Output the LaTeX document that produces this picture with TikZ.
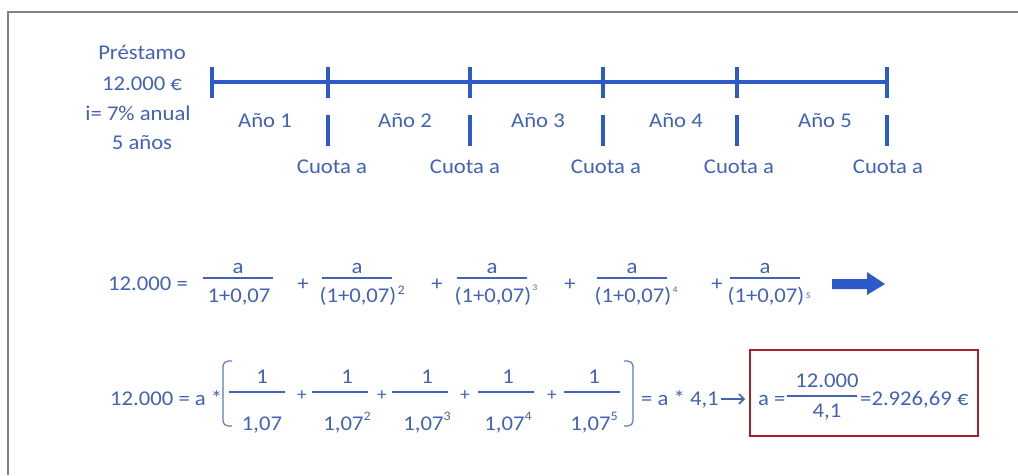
\documentclass[tikz,border=0pt]{standalone}
\usepackage{fontspec}
\usetikzlibrary{arrows.meta}
\setmainfont{Carlito}[FakeStretch=1.08]
\definecolor{txtblue}{RGB}{66,98,182}
\definecolor{lineblue}{RGB}{45,90,200}
\definecolor{boxred}{RGB}{165,35,40}
\definecolor{framegray}{RGB}{130,130,130}
\begin{document}
\begin{tikzpicture}[x=1pt,y=-1pt,
  every node/.style={text=txtblue,inner sep=0pt,font=\fontsize{21}{25}\selectfont},
  supsmall/.style={anchor=west,font=\fontsize{8.5}{8.5}\selectfont},
  bar/.style={draw=txtblue,line width=1.3pt},
  tline/.style={draw=lineblue,line width=3.6pt},
  brack/.style={draw=txtblue!85,line width=1.2pt,rounded corners=5pt}]
\useasboundingbox (0,0) rectangle (1018,475);
\draw[framegray,line width=2pt] (8,475) -- (8,12) -- (1018,12);
\draw[tline] (212,82) -- (887,82);
\draw[tline] (212,67) -- (212,98);
\foreach \x in {328,470,603,737,887} {
  \draw[tline] (\x,67) -- (\x,98);
  \draw[tline] (\x,115) -- (\x,146);
}
\node[anchor=base] (prestamo) at (142,59) {Préstamo};
\node[anchor=base] (importe) at (142,90) {12.000 €};
\node[anchor=base] (interes) at (138,120) {i= 7\% anual};
\node[anchor=base] (plazo) at (142,149) {5 años};
\foreach \x/\n in {265/1,405/2,538/3,676/4,825/5}
  \node[anchor=base] (anio\n) at (\x,127) {Año \n};
\foreach \x/\n in {332/1,465/2,606/3,739/4,888/5}
  \node[anchor=base] (cuota\n) at (\x,173) {Cuota a};
\node[anchor=base west] (capA) at (108,290) {12.000 =};
\foreach \x/\d/\n in {238/{1+0,07}/1,357/{(1+0,07)}/2,492/{(1+0,07)}/3,632/{(1+0,07)}/4,765/{(1+0,07)}/5} {
  \node[anchor=base] (numA\n) at (\x,273) {a};
  \draw[bar] (\x-35,278) -- (\x+35,278);
  \node[anchor=base] (denA\n) at (\x+1,302) {\d};
}
\node[anchor=west,font=\fontsize{13}{13}\selectfont] (supA2) at ([shift={(1pt,6pt)}]denA2.east) {2};
\node[supsmall] (supA3) at ([shift={(1pt,8pt)}]denA3.east) {3};
\node[supsmall] (supA4) at ([shift={(1pt,6pt)}]denA4.east) {4};
\node[supsmall] (supA5) at ([shift={(1pt,0pt)}]denA5.east) {5};
\foreach \x/\n in {303/1,437/2,570/3,717/4}
  \node (masA\n) at (\x,285) {+};
\fill[lineblue] (832,279) -- (867,279) -- (867,272) -- (885,284) -- (867,295) -- (867,289) -- (832,289) -- cycle;
\node[anchor=base west] (capB) at (110,405) {12.000 = a *};
\draw[brack] (232,361) -- (223,361) -- (223,426) -- (232,426);
\foreach \b/\x/\d/\n in {257/262/{1,07}/1,340/347/{1,07\raisebox{0.45em}{\fontsize{13}{13}\selectfont 2}}/2,420/427/{1,07\raisebox{0.45em}{\fontsize{13}{13}\selectfont 3}}/3,506/508/{1,07\raisebox{0.45em}{\fontsize{13}{13}\selectfont 4}}/4,592/594/{1,07\raisebox{0.45em}{\fontsize{13}{13}\selectfont 5}}/5} {
  \node[anchor=base] (numB\n) at (\x,383) {1};
  \draw[bar] (\b-28,392) -- (\b+28,392);
  \node[anchor=base] (denB\n) at (\x,430) {\d};
}
\foreach \x/\n in {302/1,382/2,465/3,552/4}
  \node[font=\fontsize{18}{18}\selectfont] (masB\n) at (\x,396) {+};
\draw[brack] (624,361) -- (633,361) -- (633,426) -- (624,426);
\node[anchor=base west] (resB) at (641,405) {= a * 4,1};
\node[draw=boxred,line width=1.8pt,minimum width=228,minimum height=86] (caja) at (864,393) {};
\draw[-{Straight Barb[length=5pt,width=10pt]},draw=txtblue,line width=1.6pt,shorten <=2pt,shorten >=4pt] (resB.east) -- (resB.east -| caja.west);
\node[anchor=base west] (aigual) at (758,405) {a =};
\node[anchor=base] (numC) at (827,387) {12.000};
\draw[bar] (787,396) -- (857,396);
\node[anchor=base] (denC) at (827,417) {4,1};
\node[anchor=base west] (cuotaval) at (860,405) {=2.926,69 €};
\end{tikzpicture}
\end{document}
